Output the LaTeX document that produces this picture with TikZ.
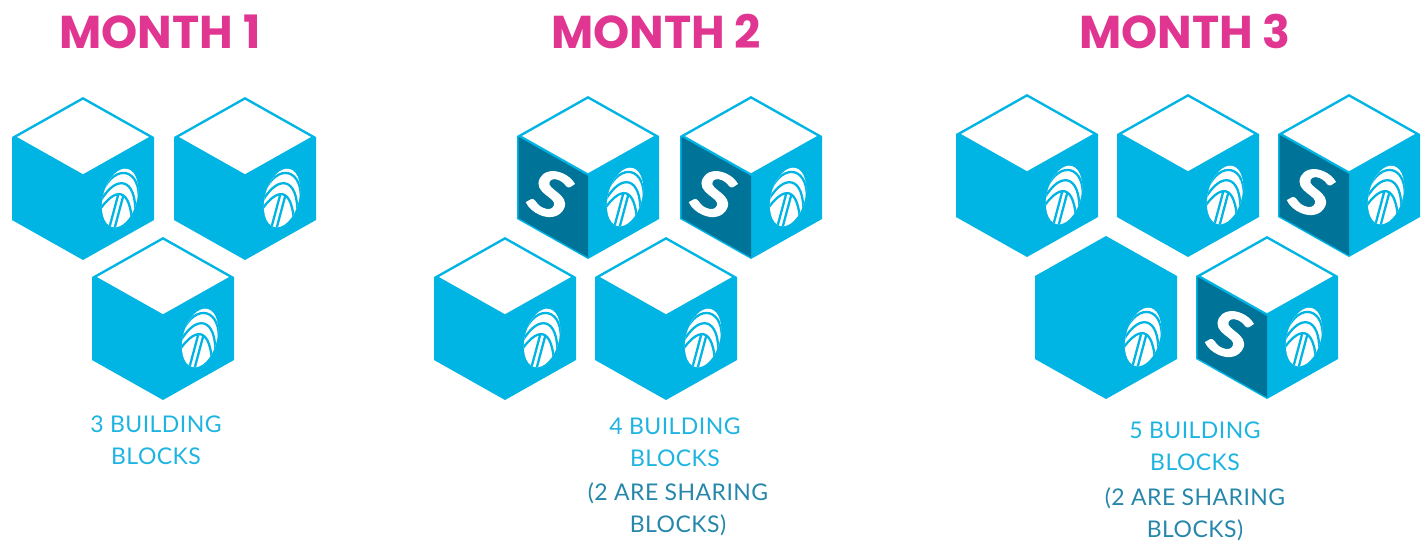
\documentclass[tikz,border=0pt]{standalone}
\usepackage{fontspec}
\setmainfont{Lato}
\newfontfamily\titlefont{Poppins}
\definecolor{cubeblue}{RGB}{0,180,228}
\definecolor{darkface}{RGB}{0,115,152}
\definecolor{titlepink}{RGB}{224,54,145}
\definecolor{textblue}{RGB}{30,180,225}
\definecolor{textteal}{RGB}{38,135,170}
\tikzset{
  title/.style={font=\titlefont\bfseries\fontsize{46}{46}\selectfont, text=titlepink, anchor=base, inner sep=0},
  bodyline/.style={font=\fontsize{23}{23}\selectfont\addfontfeatures{LetterSpace=2}, text=textblue, anchor=base, inner sep=0},
  shareline/.style={bodyline, text=textteal},
  sletter/.style={font=\bfseries\fontsize{68}{68}\selectfont\addfontfeatures{FakeBold=1.5}, text=white, inner sep=0, yslant=-0.42, xslant=0.4},
  logo/.pic={
    \begin{scope}[rotate=-15]
      \fill[white] (0,0) ellipse [x radius=17, y radius=30];
      \begin{scope}
        \clip (0,0) ellipse [x radius=17, y radius=30];
        \draw[cubeblue, line width=2.3]
          (-19,0) .. controls (-14,-34) and (14,-34) .. (19,0)
          (-19,12) .. controls (-11,-24) and (11,-24) .. (19,12)
          (-19,24) .. controls (-8,-13) and (8,-13) .. (19,24)
          (-2.6,-2) -- (-2.6,31) (2.6,-2) -- (2.6,31);
      \end{scope}
    \end{scope}
  },
  hexfill/.pic={
    \fill[cubeblue] (0,-80) -- (-71,-40) -- (-71,43) -- (0,83) -- (71,43) -- (71,-40) -- cycle;
    \pic at (37,21) {logo};
  },
  plaincube/.pic={
    \pic {hexfill};
    \fill[white] (0,-77.13) -- (-65.9,-40) -- (0,-2.87) -- (65.9,-40) -- cycle;
  },
  sharecube/.pic={
    \pic {plaincube};
    \fill[darkface] (-69.5,-39.15) -- (0,0) -- (0,81.3) -- (-69.5,42.1) -- cycle;
    \node[sletter] (-s) at (-37,18) {S};
  }
}
\begin{document}
\begin{tikzpicture}[x=1pt, y=-1pt]
\useasboundingbox (0,0) rectangle (1421,541);

% Month 1
\node[title] (t1) at (160,48) {MONTH 1};
\pic (a1) at (83,177) {plaincube};
\pic (a2) at (245,177) {plaincube};
\pic (a3) at (163,317) {plaincube};
\node[bodyline] (m1a) at (156,432) {3 BUILDING};
\node[bodyline] (m1b) at (156,464) {BLOCKS};

% Month 2
\node[title] (t2) at (656,48) {MONTH 2};
\pic (b1) at (588,176) {sharecube};
\pic (b2) at (751,176) {sharecube};
\pic (b3) at (505,317) {plaincube};
\pic (b4) at (666,317) {plaincube};
\node[bodyline] (m2a) at (675,434) {4 BUILDING};
\node[bodyline] (m2b) at (675,466) {BLOCKS};
\node[shareline] (m2c) at (678,500) {(2 ARE SHARING};
\node[shareline] (m2d) at (678,532) {BLOCKS)};

% Month 3
\node[title] (t3) at (1185,48) {MONTH 3};
\pic (c1) at (1027,174) {plaincube};
\pic (c2) at (1188,174) {plaincube};
\pic (c3) at (1349,174) {sharecube};
\pic (c4) at (1106,316) {hexfill};
\pic (c5) at (1267,316) {sharecube};
\node[bodyline] (m3a) at (1195,438) {5 BUILDING};
\node[bodyline] (m3b) at (1195,470) {BLOCKS};
\node[shareline] (m3c) at (1195,505) {(2 ARE SHARING};
\node[shareline] (m3d) at (1195,537) {BLOCKS)};
\end{tikzpicture}
\end{document}
